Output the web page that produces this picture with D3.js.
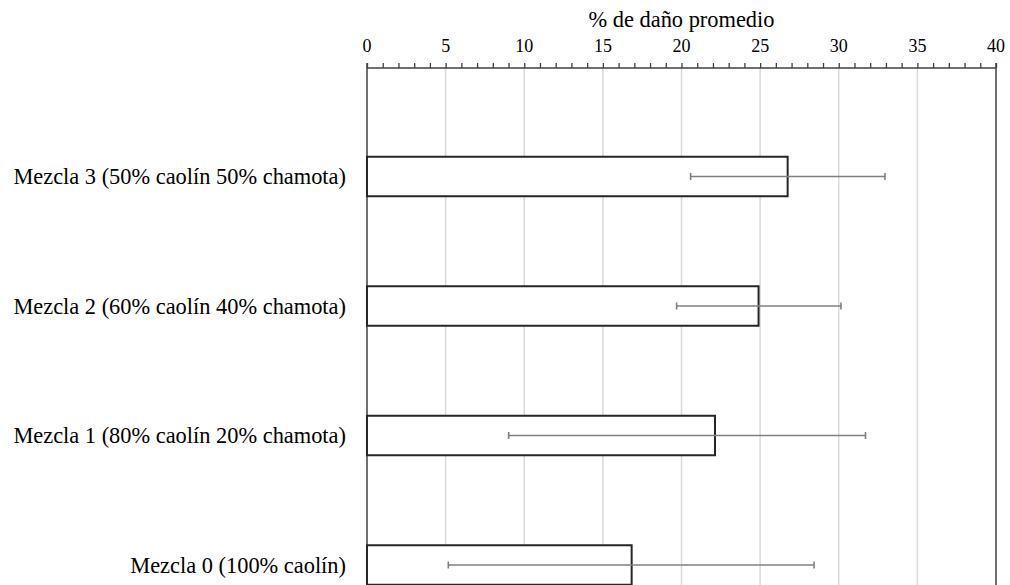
<!DOCTYPE html>
<html><head><meta charset="utf-8">
<script src="https://cdn.jsdelivr.net/npm/d3@7"></script>
<style>body{margin:0;background:#fff}svg{display:block}</style>
</head><body><svg id="c" width="1010" height="585"></svg>
<script>
const categories = ["Mezcla 3 (50% caolín 50% chamota)","Mezcla 2 (60% caolín 40% chamota)","Mezcla 1 (80% caolín 20% chamota)","Mezcla 0 (100% caolín)"];
const values = [26.75, 24.9, 22.13, 16.83];
const errLow = [20.58, 19.69, 9.01, 5.17];
const errHigh = [32.94, 30.14, 31.7, 28.43];
const xTicks = [0,5,10,15,20,25,30,35,40];
const xTitle = "% de daño promedio";

const FONT = "Liberation Serif";
const svg = d3.select("#c");
const left = 367, right = 996, axisY = 68;
const x = d3.scaleLinear().domain([0,40]).range([left,right]);
const y = d3.scaleBand().domain(categories).range([111.75, 629.75]);
const barH = 39.5;

// grid
svg.append("g").selectAll("line").data(xTicks.filter(t=>t>0&&t<40)).join("line")
  .attr("x1",d=>x(d)).attr("x2",d=>x(d)).attr("y1",axisY).attr("y2",585)
  .attr("stroke","#d9d9d9").attr("stroke-width",1.5);

// axis
const ax = d3.axisTop(x).tickValues(d3.range(0,41,1)).tickSize(5).tickFormat("");
const gAx = svg.append("g").attr("transform",`translate(0,${axisY})`).call(ax);
gAx.select(".domain").attr("stroke","#404040").attr("stroke-width",1.5).attr("d",`M${left},0H${right}`);
gAx.selectAll(".tick line").attr("stroke","#404040").attr("stroke-width",1.3);
svg.append("g").selectAll("text").data(xTicks).join("text")
  .attr("x",d=>x(d)).attr("y",52).attr("text-anchor","middle")
  .attr("font-family",FONT).attr("font-size",18).attr("fill","#000").text(d=>d);
svg.append("text").attr("x",(left+right)/2).attr("y",27).attr("text-anchor","middle")
  .attr("font-family",FONT).attr("font-size",22.4).attr("fill","#000").text(xTitle);

// vertical frame lines
[left,right].forEach(px=>svg.append("line").attr("x1",px).attr("x2",px).attr("y1",axisY-5).attr("y2",585)
  .attr("stroke","#404040").attr("stroke-width",1.5));

// bars
const data = categories.map((c,i)=>({c,v:values[i],lo:errLow[i],hi:errHigh[i]}));
const cy = d=>y(d.c)+y.bandwidth()/2;
svg.append("g").selectAll("rect").data(data).join("rect")
  .attr("x",x(0)).attr("y",d=>cy(d)-barH/2).attr("width",d=>x(d.v)-x(0)).attr("height",barH)
  .attr("fill","#fff").attr("stroke","#262626").attr("stroke-width",2);

// error bars
const eg = svg.append("g").attr("stroke","#808080").attr("stroke-width",1.6);
data.forEach(d=>{
  eg.append("line").attr("x1",x(d.lo)).attr("x2",x(d.hi)).attr("y1",cy(d)).attr("y2",cy(d));
  [d.lo,d.hi].forEach(v=>eg.append("line").attr("x1",x(v)).attr("x2",x(v)).attr("y1",cy(d)-3.5).attr("y2",cy(d)+3.5));
});

// category labels
svg.append("g").selectAll("text").data(data).join("text")
  .attr("x",346).attr("y",d=>cy(d)).attr("dy","0.35em").attr("text-anchor","end")
  .attr("font-family",FONT).attr("font-size",22.4).attr("fill","#000").text(d=>d.c);
</script></body></html>
